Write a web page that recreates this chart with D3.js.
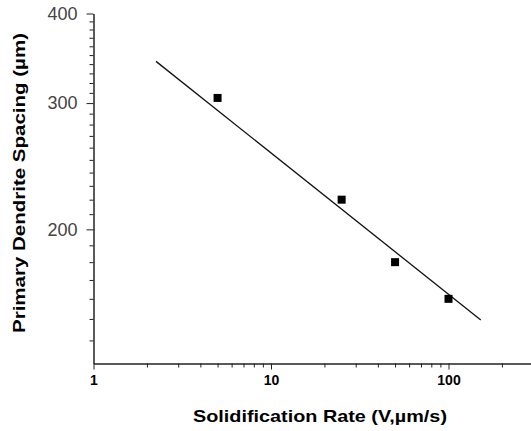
<!DOCTYPE html>
<html>
<head>
<meta charset="utf-8">
<script src="https://cdn.jsdelivr.net/npm/d3@7"></script>
<style>
  body { margin: 0; background: #fff; }
  svg { display: block; font-family: Arial, "Liberation Sans", sans-serif; }
</style>
</head>
<body>
<script>
// measured data
const rates = [5, 25, 50, 100];          // V, um/s
const spacing = [305, 220, 180, 160];    // lambda1, um
// regression line endpoints
const fitRates = [2.25, 152];
const fitSpacing = [343, 149.5];

const xMajor = [1, 10, 100];
const xMinor = [2, 3, 4, 5, 6, 7, 8, 9, 20, 30, 40, 50, 60, 70, 80, 90, 200];
const yMajor = [200, 300, 400];
const yMinor = d3.range(140, 400, 10).filter(v => !yMajor.includes(v));

const width = 531, height = 431;
const plotLeft = 93.5, plotTop = 13.5, plotBottom = 363.5;
const xDecade = 177.5;

var svg = d3.select("body").append("svg")
    .attr("width", width)
    .attr("height", height);

var x = d3.scaleLog()
    .domain([1, 290])
    .range([plotLeft, plotLeft + xDecade * Math.log10(290)]);

var y = d3.scaleLog()
    .domain([130, 400])
    .range([plotBottom, plotTop]);

// x axis
var gx = svg.append("g").attr("transform", `translate(0,${plotBottom})`);
gx.call(d3.axisBottom(x).tickValues(xMinor).tickSize(4).tickFormat("").tickSizeOuter(0));
gx.call(g => g.append("g").call(d3.axisBottom(x).tickValues(xMajor).tickSize(6).tickPadding(6)
    .tickFormat(d3.format("d")).tickSizeOuter(0)));
gx.selectAll(".domain").attr("stroke", "#222");
gx.selectAll("line").attr("stroke", "#222");
gx.selectAll("text")
    .attr("fill", "#000")
    .attr("font-size", 14)
    .attr("font-weight", "bold")
    .attr("font-family", "Arial, 'Liberation Sans', sans-serif");

// y axis
var gy = svg.append("g").attr("transform", `translate(${plotLeft},0)`);
gy.call(d3.axisLeft(y).tickValues(yMinor).tickSize(4).tickFormat("").tickSizeOuter(0));
gy.call(g => g.append("g").call(d3.axisLeft(y).tickValues(yMajor).tickSize(7).tickPadding(9)
    .tickFormat(d3.format("d")).tickSizeOuter(0)));
gy.selectAll(".domain").attr("stroke", "#222");
gy.selectAll("line").attr("stroke", "#222");
gy.selectAll("text")
    .attr("fill", "#444")
    .attr("font-size", 18)
    .attr("font-family", "Arial, 'Liberation Sans', sans-serif");

// fit line
var fit = fitRates.map((r, i) => [r, fitSpacing[i]]);
svg.append("path")
    .datum(fit)
    .attr("fill", "none")
    .attr("stroke", "#111")
    .attr("stroke-width", 1.3)
    .attr("d", d3.line().x(d => x(d[0])).y(d => y(d[1])));

// points
var pts = rates.map((r, i) => ({r: r, s: spacing[i]}));
var sq = 8;
svg.selectAll("rect.pt")
    .data(pts)
    .enter().append("rect")
    .attr("class", "pt")
    .attr("x", d => x(d.r) - sq / 2)
    .attr("y", d => y(d.s) - sq / 2)
    .attr("width", sq)
    .attr("height", sq)
    .attr("fill", "#000");

// titles
svg.append("text")
    .attr("x", 320)
    .attr("y", 422)
    .attr("text-anchor", "middle")
    .attr("font-size", 17)
    .attr("font-weight", "bold")
    .attr("fill", "#000")
    .attr("textLength", 254)
    .attr("lengthAdjust", "spacingAndGlyphs")
    .text("Solidification Rate (V,\u00b5m/s)");

svg.append("text")
    .attr("transform", "translate(25,183) rotate(-90)")
    .attr("text-anchor", "middle")
    .attr("font-size", 17)
    .attr("font-weight", "bold")
    .attr("fill", "#000")
    .attr("textLength", 300)
    .attr("lengthAdjust", "spacingAndGlyphs")
    .text("Primary Dendrite Spacing (\u00b5m)");
</script>
</body>
</html>
